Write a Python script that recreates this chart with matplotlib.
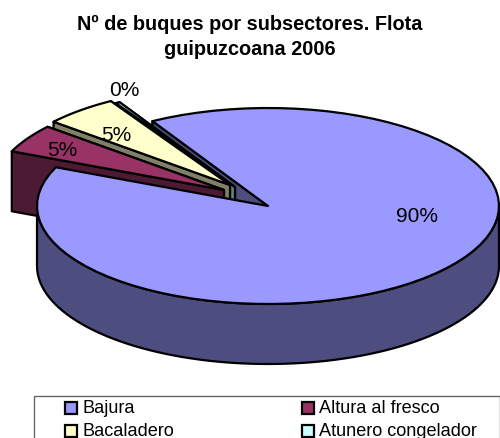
import numpy as np
import matplotlib
matplotlib.use("Agg")
import matplotlib.pyplot as plt
from matplotlib.patches import Polygon, Rectangle

plt.rcParams['font.family'] = ['Liberation Sans', 'DejaVu Sans']

categories = ['Bajura', 'Altura al fresco', 'Bacaladero', 'Atunero congelador']
values = [89.8, 4.7, 5.2, 0.3]
top_colors = ['#9999FF', '#993366', '#FFFFCC', '#CCFFFF']
side_colors = ['#4D4D80', '#4D1A33', '#808066', '#668080']
# how far each slice is pulled out, in pixels
shift_x = [0, -44, -38, -33]
shift_y = [0, -16, -21, -19]

# pie geometry in pixels
cx, cy = 268, 207
rx, ry = 231, 98
depth = 60
start = 120


def arc_points(t1, t2, ox, oy, n=80):
    t = np.radians(np.linspace(t1, t2, n))
    return np.column_stack([ox + rx * np.cos(t), oy - ry * np.sin(t)])


fig = plt.figure(figsize=(5, 4.39), dpi=100)
ax = fig.add_axes([0, 0, 1, 1], frameon=False)
ax.set_xlim(0, 500)
ax.set_ylim(439, 0)
ax.axis('off')

# slice angles, clockwise from the start angle
total = sum(values)
angles = []
a = start
for v in values:
    angles.append((a, a - v / total * 360))
    a = a - v / total * 360

lw = 1.6


def draw_walls(i):
    t1, t2 = angles[i]
    ox = cx + shift_x[i]
    oy = cy + shift_y[i]
    arc = arc_points(t1, t2, ox, oy)
    apex = np.array([ox, oy])
    down = np.array([0, depth])

    # radial walls, the upper edge goes first so the lower one hides it
    for edge in (arc[-1], arc[0]):
        if i == 0:
            edge = arc[0]
        wall = [apex, edge, edge + down, apex + down]
        ax.add_patch(Polygon(wall, fc=side_colors[i], ec='black', lw=lw, joinstyle='round'))

    # outer wall, only the part that faces the viewer
    lo = max(t2, -180)
    hi = min(t1, 0)
    if hi > lo:
        front = arc_points(hi, lo, ox, oy)
        wall = np.vstack([front, (front + down)[::-1]])
        ax.add_patch(Polygon(wall, fc=side_colors[i], ec='black', lw=lw, joinstyle='round'))


def draw_top(i):
    t1, t2 = angles[i]
    ox = cx + shift_x[i]
    oy = cy + shift_y[i]
    arc = arc_points(t1, t2, ox, oy)
    ax.add_patch(Polygon(np.vstack([[ox, oy], arc]), fc=top_colors[i], ec='black', lw=lw, joinstyle='round'))


# big slice walls first, the pulled out slices over them, big top last
draw_walls(0)
for i in [3, 2, 1]:
    draw_walls(i)
    draw_top(i)
draw_top(0)

# percent labels
label_pos = [(417, 217), (62, 151), (116, 136), (124, 91)]
for v, (x, y) in zip(values, label_pos):
    ax.text(x, y, f'{v:.0f}%', ha='center', va='center', fontsize=15, color='black')

ax.text(250, 37, 'Nº de buques por subsectores. Flota\nguipuzcoana 2006',
        ha='center', va='center', fontsize=14.3, fontweight='bold', linespacing=1.45)

# legend box runs past the bottom of the picture
ax.add_patch(Rectangle((34, 397), 466, 60, fc='white', ec='#666666', lw=1))
leg_x = [65, 302]
leg_y = [409, 432]
for i, name in enumerate(categories):
    x = leg_x[i % 2]
    y = leg_y[i // 2]
    ax.add_patch(Rectangle((x, y - 6), 12, 12, fc=top_colors[i], ec='black', lw=1.6))
    ax.text(x + 17, y, name, ha='left', va='center', fontsize=13.1)

fig.savefig('out.png', dpi=100)
